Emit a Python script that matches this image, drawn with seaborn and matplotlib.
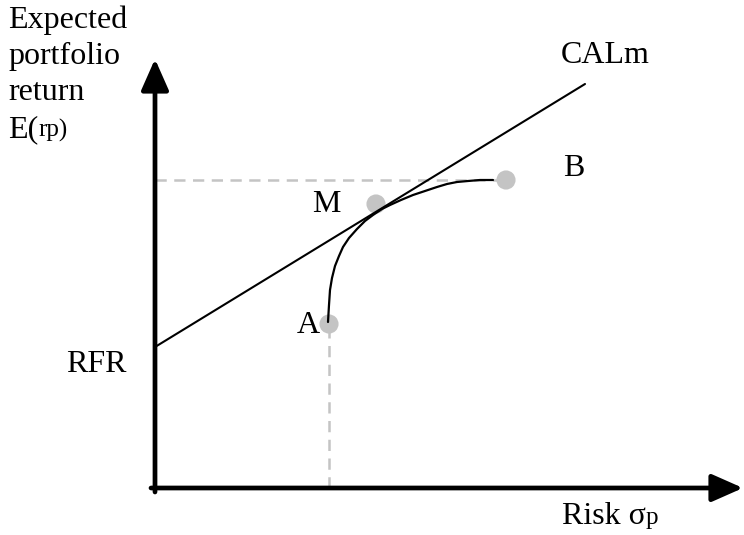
import matplotlib
matplotlib.use("Agg")
import matplotlib.pyplot as plt
import seaborn as sns
import pandas as pd

# ---- data (chart units: origin at the axes' corner) ----
point_labels = ["A", "M", "B"]
point_risk = [3.48, 4.42, 7.02]
point_return = [3.28, 5.68, 6.16]

rfr = 2.82
cal_risk = [0.0, 8.6]
cal_return = [2.82, 8.08]

frontier_risk = [3.46, 3.48, 3.50, 3.54, 3.60, 3.68, 3.76, 3.88, 4.04, 4.20, 4.36,
                 4.54, 4.70, 4.92, 5.16, 5.40, 5.64, 5.84, 6.04, 6.26, 6.50, 6.76]
frontier_return = [3.32, 3.66, 3.96, 4.20, 4.44, 4.64, 4.82, 5.00, 5.18, 5.34, 5.46,
                   5.58, 5.66, 5.76, 5.86, 5.94, 6.02, 6.08, 6.12, 6.14, 6.16, 6.16]

sns.set_theme(style="white")
plt.rcParams["font.family"] = ["Liberation Serif", "DejaVu Serif"]

W, H = 744, 535
SCALE = 50.0
OX, OY = 155, 488

fig = plt.figure(figsize=(W / 100, H / 100), dpi=100)
ax = fig.add_axes([0, 0, 1, 1])
ax.set_xlim(-OX / SCALE, (W - OX) / SCALE)
ax.set_ylim(-(H - OY) / SCALE, OY / SCALE)
ax.axis("off")


def px(x, y):
    return ((x - OX) / SCALE, (OY - y) / SCALE)


grey = "#c4c4c4"
dash = dict(color=grey, lw=1.8, dashes=(4.5, 3), zorder=1)

# dashed guides
ax.plot([0, point_risk[2]], [point_return[2], point_return[2]], **dash)
ax.plot([point_risk[0], point_risk[0]], [0, point_return[0]], **dash)

# points
pts = pd.DataFrame({"risk": point_risk, "ret": point_return, "label": point_labels})
sns.scatterplot(data=pts, x="risk", y="ret", ax=ax, s=190, color=grey,
                edgecolor="none", zorder=2, legend=False)

# CAL line
cal = pd.DataFrame({"risk": cal_risk, "ret": cal_return})
sns.lineplot(data=cal, x="risk", y="ret", ax=ax, color="black", lw=1.5,
             sort=False, estimator=None, zorder=3)

# frontier curve
fr = pd.DataFrame({"risk": frontier_risk, "ret": frontier_return})
sns.lineplot(data=fr, x="risk", y="ret", ax=ax, color="black", lw=1.6,
             sort=False, estimator=None, zorder=3)

# axes arrows
arrow = dict(arrowstyle="-|>,head_length=0.95,head_width=0.42", lw=3.4,
             color="black", mutation_scale=20, shrinkA=0, shrinkB=0)
ax.annotate("", xy=px(155, 59), xytext=px(155, 492), arrowprops=arrow, zorder=4)
ax.annotate("", xy=px(743, 488), xytext=px(151, 488), arrowprops=arrow, zorder=4)

fs = 23
sub = 18

fig.canvas.draw()
renderer = fig.canvas.get_renderer()


def txt(x, y, s, size=fs):
    return ax.text(*px(x, y), s, fontsize=size, ha="left", va="baseline", color="black")


def txt_sub(x, y, main, small):
    t = txt(x, y, main)
    bb = t.get_window_extent(renderer=renderer)
    # place the smaller part right after the main text, same baseline
    ax.text(bb.x1 / fig.dpi * 100 * 0 + bb.x1, 0, small, fontsize=sub, ha="left",
            va="baseline", color="black",
            transform=matplotlib.transforms.blended_transform_factory(
                matplotlib.transforms.IdentityTransform(), ax.transData),
            ).set_y(px(x, y)[1])


txt(8, 28, "Expected")
txt(8, 64, "portfolio")
txt(8, 100, "return")
txt_sub(8, 137, "E(", "rp)")
txt(561, 63, "CALm")
txt(563, 176, "B")
txt(312, 212, "M")
txt(297, 333, "A")
txt(66, 372, "RFR")
txt_sub(562, 524, "Risk σ", "p")

fig.savefig("out.png", dpi=100)
